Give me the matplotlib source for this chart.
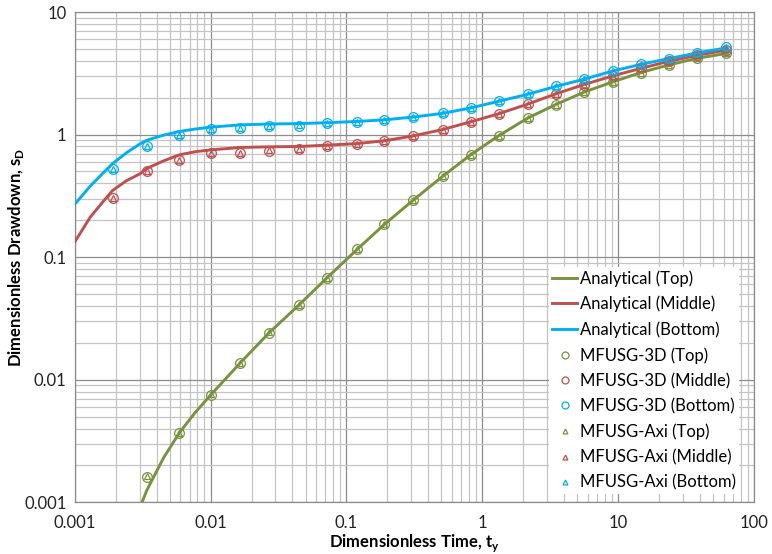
import numpy as np
import matplotlib
matplotlib.use("Agg")
import matplotlib.pyplot as plt
from matplotlib import ticker
from matplotlib.lines import Line2D

plt.rcParams["font.family"] = ["Lato", "DejaVu Sans"]
plt.rcParams["mathtext.fontset"] = "custom"
plt.rcParams["mathtext.bf"] = "Lato:bold"

# times of the simulated points
t_sim = [0.0019, 0.0034, 0.0059, 0.01, 0.0165, 0.027, 0.045, 0.072, 0.12, 0.19, 0.31,
         0.51, 0.82, 1.32, 2.15, 3.47, 5.6, 9.1, 14.7, 23.5, 38, 62.5]

top_3d = [np.nan, 0.0016, 0.0037, 0.0075, 0.0137, 0.0242, 0.041, 0.068, 0.116, 0.185, 0.292,
          0.456, 0.684, 0.98, 1.36, 1.76, 2.22, 2.69, 3.21, 3.70, 4.19, 4.63]
mid_3d = [0.305, 0.50, 0.62, 0.705, 0.705, 0.74, 0.76, 0.805, 0.836, 0.89, 0.975,
          1.10, 1.27, 1.48, 1.77, 2.15, 2.56, 3.01, 3.47, 3.96, 4.43, 4.93]
bot_3d = [0.525, 0.81, 1.0, 1.11, 1.13, 1.17, 1.18, 1.24, 1.27, 1.32, 1.39,
          1.49, 1.65, 1.87, 2.13, 2.47, 2.83, 3.30, 3.74, 4.17, 4.63, 5.17]

top_axi = [np.nan, 0.00165, 0.0037, 0.0076, 0.0138, 0.0243, 0.041, 0.068, 0.116, 0.185, 0.292,
           0.456, 0.684, 0.98, 1.36, 1.76, 2.22, 2.69, 3.21, 3.70, 4.19, 4.65]
mid_axi = [0.305, 0.50, 0.62, 0.71, 0.71, 0.745, 0.765, 0.81, 0.84, 0.89, 0.975,
           1.10, 1.27, 1.48, 1.77, 2.15, 2.56, 3.01, 3.47, 3.96, 4.43, 4.95]
bot_axi = [0.525, 0.81, 1.0, 1.12, 1.14, 1.18, 1.19, 1.24, 1.27, 1.32, 1.39,
           1.49, 1.65, 1.87, 2.13, 2.47, 2.83, 3.30, 3.74, 4.17, 4.63, 5.19]

# analytical curves
t_ana = [0.001, 0.0013, 0.0016, 0.0019, 0.0024, 0.003, 0.0034, 0.0045, 0.0059, 0.0077, 0.01,
         0.0165, 0.027, 0.045, 0.072, 0.12, 0.19, 0.31, 0.51, 0.82, 1.32, 2.15, 3.47, 5.6,
         9.1, 14.7, 23.5, 38, 62.5]
bot_ana = [0.27, 0.38, 0.48, 0.58, 0.71, 0.836, 0.90, 0.99, 1.06, 1.11, 1.15,
           1.20, 1.22, 1.23, 1.25, 1.28, 1.32, 1.39, 1.49, 1.65, 1.87, 2.13, 2.47, 2.83,
           3.30, 3.74, 4.17, 4.63, 5.10]
mid_ana = [0.133, 0.212, 0.28, 0.35, 0.42, 0.477, 0.53, 0.61, 0.684, 0.725, 0.75,
           0.785, 0.795, 0.80, 0.82, 0.845, 0.89, 0.975, 1.10, 1.27, 1.48, 1.77, 2.15, 2.56,
           3.01, 3.47, 3.96, 4.43, 4.90]
t_ana_top = [0.003, 0.0034, 0.0045, 0.0059, 0.0077, 0.01, 0.0165, 0.027, 0.045, 0.072, 0.12,
             0.19, 0.31, 0.51, 0.82, 1.32, 2.15, 3.47, 5.6, 9.1, 14.7, 23.5, 38, 62.5]
top_ana = [0.00089, 0.00126, 0.0023, 0.0037, 0.0054, 0.0075, 0.0137, 0.0242, 0.041, 0.068, 0.116,
           0.185, 0.292, 0.456, 0.684, 0.98, 1.36, 1.76, 2.22, 2.69, 3.21, 3.70, 4.19, 4.60]

green = "#77933C"
red = "#C0504D"
blue = "#00B0F0"

fig = plt.figure(figsize=(7.72, 5.54), dpi=100)
ax = fig.add_axes([0.0968, 0.0933, 0.88, 0.885])

ax.plot(t_ana_top, top_ana, color=green, lw=2.1, zorder=3)
ax.plot(t_ana, mid_ana, color=red, lw=2.1, zorder=3)
ax.plot(t_ana, bot_ana, color=blue, lw=2.1, zorder=3)

ax.plot(t_sim, top_3d, "o", mfc="none", mec=green, ms=7, mew=0.9, zorder=4)
ax.plot(t_sim, mid_3d, "o", mfc="none", mec=red, ms=7, mew=0.9, zorder=4)
ax.plot(t_sim, bot_3d, "o", mfc="none", mec=blue, ms=7, mew=0.9, zorder=4)
ax.plot(t_sim, top_axi, "^", mfc="none", mec=green, ms=4, mew=0.9, zorder=4)
ax.plot(t_sim, mid_axi, "^", mfc="none", mec=red, ms=4, mew=0.9, zorder=4)
ax.plot(t_sim, bot_axi, "^", mfc="none", mec=blue, ms=4, mew=0.9, zorder=4)

ax.set_xscale("log")
ax.set_yscale("log")
ax.set_xlim(0.001, 100)
ax.set_ylim(0.001, 10)

fmt = ticker.FuncFormatter(lambda v, p: f"{v:g}")
ax.xaxis.set_major_formatter(fmt)
ax.yaxis.set_major_formatter(fmt)
ax.xaxis.set_minor_formatter(ticker.NullFormatter())
ax.yaxis.set_minor_formatter(ticker.NullFormatter())
ax.xaxis.set_minor_locator(ticker.LogLocator(base=10, subs=np.arange(2, 10)))
ax.yaxis.set_minor_locator(ticker.LogLocator(base=10, subs=np.arange(2, 10)))
ax.tick_params(which="both", length=0, labelsize=12, colors="#222222")
ax.tick_params(axis="x", pad=9)
ax.tick_params(axis="y", pad=6)

ax.grid(True, which="major", color="#8c8c8c", lw=0.9)
ax.grid(True, which="minor", color="#c4c4c4", lw=0.9)
ax.set_axisbelow(True)
for s in ax.spines.values():
    s.set_color("#8c8c8c")
    s.set_linewidth(0.9)

ax.set_xlabel(r"Dimensionless Time, t$_\mathbf{y}$", fontsize=12, fontweight="bold", labelpad=1)
ax.set_ylabel(r"Dimensionless Drawdown, s$_\mathbf{D}$", fontsize=12, fontweight="bold")
ax.yaxis.set_label_coords(-0.072, 0.5)

handles = [
    Line2D([], [], color=green, lw=2.1),
    Line2D([], [], color=red, lw=2.1),
    Line2D([], [], color=blue, lw=2.1),
    Line2D([], [], ls="none", marker="o", mfc="none", mec=green, ms=5, mew=0.9),
    Line2D([], [], ls="none", marker="o", mfc="none", mec=red, ms=5, mew=0.9),
    Line2D([], [], ls="none", marker="o", mfc="none", mec=blue, ms=5, mew=0.9),
    Line2D([], [], ls="none", marker="^", mfc="none", mec=green, ms=3.5, mew=0.9),
    Line2D([], [], ls="none", marker="^", mfc="none", mec=red, ms=3.5, mew=0.9),
    Line2D([], [], ls="none", marker="^", mfc="none", mec=blue, ms=3.5, mew=0.9),
]
labels = ["Analytical (Top)", "Analytical (Middle)", "Analytical (Bottom)",
          "MFUSG-3D (Top)", "MFUSG-3D (Middle)", "MFUSG-3D (Bottom)",
          "MFUSG-Axi (Top)", "MFUSG-Axi (Middle)", "MFUSG-Axi (Bottom)"]
leg = ax.legend(handles, labels, loc="lower right", bbox_to_anchor=(0.99, 0.0),
                fontsize=12, frameon=True, fancybox=False, framealpha=1,
                edgecolor="none", facecolor="white", handlelength=1.5,
                handletextpad=0.15, labelspacing=0.55, borderpad=0.2)

fig.savefig("out.png", dpi=100)
